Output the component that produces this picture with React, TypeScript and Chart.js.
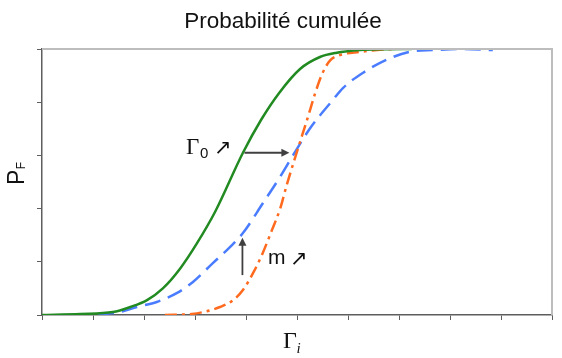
import React, { useEffect, useRef } from "react";
import { Chart, registerables } from "chart.js";

Chart.register(...registerables);

const titleText = "Probabilité cumulée";
const yLabelMain = "P";
const yLabelSub = "F";
const xLabelMain = "Γ";
const xLabelSub = "i";
const gammaAnnotMain = "Γ";
const gammaAnnotSub = "0";
const mAnnot = "m";
const arrowGlyph = "↗";

const xMin = 0;
const xMax = 10;
const yMin = 0;
const yMax = 1;

const greenX = [0, 0.75, 1.39, 1.73, 2.06, 2.37, 2.71, 3.04, 3.4, 3.94, 4.3, 4.65, 5.06, 5.45, 5.78, 6.24, 6.7, 7.25];
const greenY = [0, 0.004, 0.011, 0.03, 0.056, 0.1, 0.175, 0.27, 0.39, 0.61, 0.735, 0.835, 0.925, 0.97, 0.986, 0.996, 0.999, 1.0];

const blueX = [1.1, 1.53, 1.86, 2.25, 2.65, 2.96, 3.35, 3.69, 3.94, 4.33, 4.67, 4.92, 5.25, 5.71, 5.9, 6.29, 6.76, 7.22, 7.67, 8.2, 8.84];
const blueY = [0.002, 0.011, 0.03, 0.049, 0.083, 0.124, 0.195, 0.256, 0.308, 0.42, 0.52, 0.6, 0.7, 0.81, 0.853, 0.91, 0.96, 0.99, 0.996, 1.0, 0.996];

const orangeX = [2.41, 2.94, 3.16, 3.49, 3.75, 3.94, 4.14, 4.31, 4.51, 4.67, 4.8, 4.96, 5.1, 5.2, 5.27, 5.35, 5.49, 5.65, 5.84, 6.24, 6.57, 6.88];
const orangeY = [0, 0.004, 0.011, 0.03, 0.056, 0.094, 0.158, 0.225, 0.32, 0.4, 0.49, 0.59, 0.675, 0.735, 0.78, 0.83, 0.905, 0.957, 0.977, 0.989, 0.996, 1.0];

// annotation anchors in data units
const hArrowFrom = { x: 3.97, y: 0.61 };
const hArrowTo = { x: 4.85, y: 0.61 };
const vArrowFrom = { x: 3.93, y: 0.15 };
const vArrowTo = { x: 3.93, y: 0.29 };

const toPts = (xs: number[], ys: number[]) => xs.map((x, i) => ({ x, y: ys[i] }));

function drawArrow(ctx: CanvasRenderingContext2D, x1: number, y1: number, x2: number, y2: number) {
  const ang = Math.atan2(y2 - y1, x2 - x1);
  const hl = 8;
  const hw = 4;
  ctx.save();
  ctx.strokeStyle = "#404040";
  ctx.fillStyle = "#404040";
  ctx.lineWidth = 1.8;
  ctx.beginPath();
  ctx.moveTo(x1, y1);
  ctx.lineTo(x2 - Math.cos(ang) * hl * 0.8, y2 - Math.sin(ang) * hl * 0.8);
  ctx.stroke();
  ctx.beginPath();
  ctx.moveTo(x2, y2);
  ctx.lineTo(x2 - Math.cos(ang) * hl - Math.sin(ang) * hw, y2 - Math.sin(ang) * hl + Math.cos(ang) * hw);
  ctx.lineTo(x2 - Math.cos(ang) * hl + Math.sin(ang) * hw, y2 - Math.sin(ang) * hl - Math.cos(ang) * hw);
  ctx.closePath();
  ctx.fill();
  ctx.restore();
}

const decorPlugin = {
  id: "decor",
  afterDraw(chart: any) {
    const ctx: CanvasRenderingContext2D = chart.ctx;
    const { left, right, top, bottom } = chart.chartArea;
    const xs = chart.scales.x;
    const ys = chart.scales.y;
    ctx.save();
    // top & right frame
    ctx.strokeStyle = "#bdbdbd";
    ctx.lineWidth = 2;
    ctx.beginPath();
    ctx.moveTo(left, top);
    ctx.lineTo(right, top);
    ctx.lineTo(right, bottom);
    ctx.stroke();

    ctx.fillStyle = "#111111";
    ctx.textAlign = "left";
    ctx.textBaseline = "alphabetic";

    // title
    ctx.font = "22.5px 'Liberation Sans', Arial, sans-serif";
    ctx.textAlign = "center";
    ctx.fillText(titleText, chart.width / 2 + 2, 28);
    ctx.textAlign = "left";

    // y label (rotated)
    ctx.save();
    ctx.translate(24, 185);
    ctx.rotate(-Math.PI / 2);
    ctx.font = "23px 'Liberation Sans', Arial, sans-serif";
    ctx.fillText(yLabelMain, 0, 0);
    const pw = ctx.measureText(yLabelMain).width;
    ctx.font = "12px 'Liberation Sans', Arial, sans-serif";
    ctx.fillText(yLabelSub, pw + 0.5, 0.5);
    ctx.restore();

    // x label
    ctx.font = "24px 'Liberation Serif', 'Times New Roman', serif";
    ctx.fillText(xLabelMain, 283, 348);
    const gw = ctx.measureText(xLabelMain).width;
    ctx.font = "italic 15px 'Liberation Serif', 'Times New Roman', serif";
    ctx.fillText(xLabelSub, 283 + gw - 0.5, 353);

    // Gamma0 annotation
    ctx.font = "23px 'Liberation Serif', 'Times New Roman', serif";
    ctx.fillText(gammaAnnotMain, 186, 154);
    ctx.font = "15px 'Liberation Sans', Arial, sans-serif";
    ctx.fillText(gammaAnnotSub, 200, 158);
    ctx.font = "21px 'DejaVu Sans', sans-serif";
    ctx.fillText(arrowGlyph, 214, 154);

    // m annotation
    ctx.font = "21px 'Liberation Sans', Arial, sans-serif";
    ctx.fillText(mAnnot, 268, 264);
    ctx.font = "21px 'DejaVu Sans', sans-serif";
    ctx.fillText(arrowGlyph, 290, 265);

    ctx.restore();

    drawArrow(ctx, xs.getPixelForValue(hArrowFrom.x), ys.getPixelForValue(hArrowFrom.y), xs.getPixelForValue(hArrowTo.x), ys.getPixelForValue(hArrowTo.y));
    drawArrow(ctx, xs.getPixelForValue(vArrowFrom.x), ys.getPixelForValue(vArrowFrom.y), xs.getPixelForValue(vArrowTo.x), ys.getPixelForValue(vArrowTo.y));
  },
};

export default function App() {
  const ref = useRef<HTMLCanvasElement | null>(null);
  useEffect(() => {
    document.body.style.margin = "0";
    const canvas = ref.current;
    if (!canvas) return;
    const axisColor = "#5e5e5e";
    const chart = new Chart(canvas, {
      type: "line",
      data: {
        datasets: [
          {
            data: toPts(greenX, greenY),
            borderColor: "#218a21",
            borderWidth: 2.5,
            pointRadius: 0,
            cubicInterpolationMode: "monotone",
            fill: false,
          },
          {
            data: toPts(orangeX, orangeY),
            borderColor: "#ff6a1f",
            borderWidth: 2.5,
            borderDash: [12, 5, 3, 5],
            pointRadius: 0,
            cubicInterpolationMode: "monotone",
            fill: false,
          },
          {
            data: toPts(blueX, blueY),
            borderColor: "#4a7cff",
            borderWidth: 2.5,
            borderDash: [16, 8],
            pointRadius: 0,
            cubicInterpolationMode: "monotone",
            fill: false,
          },
        ],
      },
      options: {
        responsive: false,
        animation: false,
        events: [],
        layout: { padding: { left: 32, right: 10, top: 49, bottom: 33 } },
        plugins: { legend: { display: false }, tooltip: { enabled: false }, title: { display: false } },
        scales: {
          x: {
            type: "linear",
            min: xMin,
            max: xMax,
            ticks: { display: false, stepSize: 1 },
            grid: { drawOnChartArea: false, drawTicks: true, tickLength: 5, color: axisColor, lineWidth: 1 },
            border: { color: axisColor, width: 1.5 },
            afterFit(scale: any) {
              scale.height = 10;
            },
          },
          y: {
            type: "linear",
            min: yMin,
            max: yMax,
            ticks: { display: false, stepSize: 0.2 },
            grid: { drawOnChartArea: false, drawTicks: true, tickLength: 5, color: axisColor, lineWidth: 1 },
            border: { color: axisColor, width: 1.5 },
            afterFit(scale: any) {
              scale.width = 10;
            },
          },
        },
      },
      plugins: [decorPlugin],
    } as any);
    return () => chart.destroy();
  }, []);
  return <canvas ref={ref} width={562} height={358} style={{ display: "block" }} />;
}
